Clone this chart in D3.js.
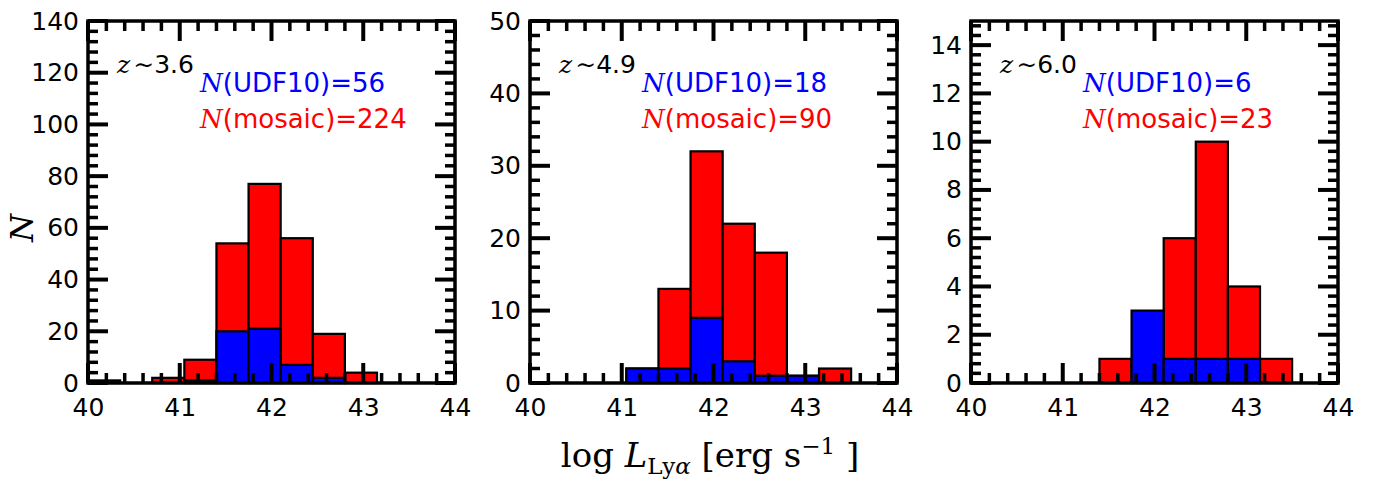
<!DOCTYPE html>
<html><head><meta charset="utf-8">
<script src="https://cdn.jsdelivr.net/npm/d3@7"></script>
<style>body{margin:0;background:#fff}</style>
</head><body><svg id="c" width="1384" height="490"></svg>
<script>
// ---- data ----
const binEdges = [40.0, 40.35, 40.7, 41.05, 41.4, 41.75, 42.1, 42.45, 42.8, 43.15, 43.5];
const redshiftLabels = ["3.6", "4.9", "6.0"];
const udfCountLabels = ["56", "18", "6"];
const mosaicCountLabels = ["224", "90", "23"];
const mosaicZ36 = [1, 0, 2, 9, 54, 77, 56, 19, 4, 0];
const udfZ36    = [0, 0, 0, 1, 20, 21, 7, 2, 0, 0];
const mosaicZ49 = [0, 0, 0, 2, 13, 32, 22, 18, 1, 2];
const udfZ49    = [0, 0, 0, 2, 2, 9, 3, 1, 1, 0];
const mosaicZ60 = [0, 0, 0, 0, 1, 1, 6, 10, 4, 1];
const udfZ60    = [0, 0, 0, 0, 0, 3, 1, 1, 1, 0];
const yMaxes = [140, 50, 15];
const yMajorSteps = [20, 10, 2];
const xMajorTicks = [40, 41, 42, 43, 44];

const mosaicSeries = [mosaicZ36, mosaicZ49, mosaicZ60];
const udfSeries = [udfZ36, udfZ49, udfZ60];

// ---- layout ----
const svg = d3.select("#c");
svg.append("rect").attr("width", 1384).attr("height", 490).attr("fill", "#fff");
const panelLefts = [88, 530, 971];
const topY = 21, H = 362, W = 367;
const MAJ = 20, MIN = 10;
const sans = "'DejaVu Sans', sans-serif";
const serif = "'DejaVu Serif', serif";

function stepRange(a, b, step) {
  const out = [];
  const n = Math.floor((b - a) / step + 1e-6);
  for (let i = 0; i <= n; i++) out.push(+(a + i * step).toFixed(6));
  return out;
}

panelLefts.forEach((left, p) => {
  const g = svg.append("g").attr("transform", `translate(${left},${topY})`);
  const x = d3.scaleLinear().domain([40, 44]).range([0, W]);
  const y = d3.scaleLinear().domain([0, yMaxes[p]]).range([H, 0]);

  const bins = binEdges.slice(0, -1).map((e, i) => ({ x0: e, x1: binEdges[i + 1] }));
  const drawBars = (vals, color) => {
    g.append("g").selectAll("rect")
      .data(bins.map((b, i) => ({ ...b, v: vals[i] })).filter(d => d.v > 0))
      .join("rect")
      .attr("x", d => x(d.x0)).attr("width", d => x(d.x1) - x(d.x0))
      .attr("y", d => y(d.v)).attr("height", d => y(0) - y(d.v))
      .attr("fill", color).attr("stroke", "#000").attr("stroke-width", 2.2);
  };
  drawBars(mosaicSeries[p], "#ff0000");
  drawBars(udfSeries[p], "#0000ff");

  const xMinor = stepRange(40, 44, 0.2).filter(v => Math.abs(v - Math.round(v)) > 1e-6);
  const yMajor = stepRange(0, yMaxes[p], yMajorSteps[p]);
  const yMinor = stepRange(0, yMaxes[p], yMajorSteps[p] / 5).filter(v => !yMajor.some(m => Math.abs(m - v) < 1e-6));

  // tick marks on all four sides, pointing inward
  const tk = g.append("g").attr("stroke", "#000");
  const xTickData = xMajorTicks.map(v => ({ v, len: MAJ, sw: 4 })).concat(xMinor.map(v => ({ v, len: MIN, sw: 3.5 })));
  const yTickData = yMajor.map(v => ({ v, len: MAJ, sw: 4 })).concat(yMinor.map(v => ({ v, len: MIN, sw: 3.5 })));
  tk.selectAll("line.xb").data(xTickData).join("line").attr("class", "xb")
    .attr("x1", d => x(d.v)).attr("x2", d => x(d.v)).attr("y1", H).attr("y2", d => H - d.len).attr("stroke-width", d => d.sw);
  tk.selectAll("line.xt").data(xTickData).join("line").attr("class", "xt")
    .attr("x1", d => x(d.v)).attr("x2", d => x(d.v)).attr("y1", 0).attr("y2", d => d.len).attr("stroke-width", d => d.sw);
  tk.selectAll("line.yl").data(yTickData).join("line").attr("class", "yl")
    .attr("y1", d => y(d.v)).attr("y2", d => y(d.v)).attr("x1", 0).attr("x2", d => d.len).attr("stroke-width", d => d.sw);
  tk.selectAll("line.yr").data(yTickData).join("line").attr("class", "yr")
    .attr("y1", d => y(d.v)).attr("y2", d => y(d.v)).attr("x1", W).attr("x2", d => W - d.len).attr("stroke-width", d => d.sw);

  // tick labels via d3 axes
  const bx = g.append("g").attr("transform", `translate(0,${H})`)
    .call(d3.axisBottom(x).tickValues(xMajorTicks).tickFormat(d3.format("d")).tickSize(0).tickPadding(15));
  const ly = g.append("g")
    .call(d3.axisLeft(y).tickValues(yMajor).tickFormat(d3.format("d")).tickSize(0).tickPadding(9));
  [bx, ly].forEach(s => {
    s.select(".domain").remove();
    s.selectAll(".tick line").remove();
    s.selectAll(".tick text").attr("fill", "#000").attr("font-family", sans).attr("font-size", 25);
  });

  // frame
  g.append("rect").attr("width", W).attr("height", H)
    .attr("fill", "none").attr("stroke", "#000").attr("stroke-width", 3.5);

  // annotations
  const tz = g.append("text").attr("x", 29).attr("y", 73 - topY).attr("font-size", 25).attr("fill", "#000");
  tz.append("tspan").attr("font-family", serif).attr("font-style", "italic").text("z");
  tz.append("tspan").attr("font-family", serif).attr("dx", 3).text("∼");
  tz.append("tspan").attr("font-family", sans).text(redshiftLabels[p]);

  const tu = g.append("text").attr("x", 112).attr("y", 92 - topY).attr("font-size", 26).attr("fill", "#0000ff");
  tu.append("tspan").attr("font-family", serif).attr("font-style", "italic").text("N");
  tu.append("tspan").attr("font-family", sans).text("(UDF10)=" + udfCountLabels[p]);

  const tm = g.append("text").attr("x", 112).attr("y", 128 - topY).attr("font-size", 26).attr("fill", "#ff0000");
  tm.append("tspan").attr("font-family", serif).attr("font-style", "italic").text("N");
  tm.append("tspan").attr("font-family", sans).text("(mosaic)=" + mosaicCountLabels[p]);
});

// y label
svg.append("text").attr("transform", "translate(22,228) rotate(-90)")
  .attr("text-anchor", "middle").attr("dominant-baseline", "central")
  .attr("font-family", serif).attr("font-style", "italic").attr("font-size", 32).text("N");

// x label
const xl = svg.append("text").attr("x", 710).attr("y", 467).attr("text-anchor", "middle")
  .attr("font-family", serif).attr("font-size", 34).attr("fill", "#000");
xl.append("tspan").text("log ");
xl.append("tspan").attr("font-style", "italic").text("L");
xl.append("tspan").attr("font-size", 23).attr("dy", 7).text("Ly");
xl.append("tspan").attr("font-size", 23).attr("font-style", "italic").text("α");
xl.append("tspan").attr("dy", -7).text(" [erg s");
xl.append("tspan").attr("font-size", 23).attr("dy", -13).text("−1");
xl.append("tspan").attr("dy", 13).text(" ]");
</script>
</body></html>
